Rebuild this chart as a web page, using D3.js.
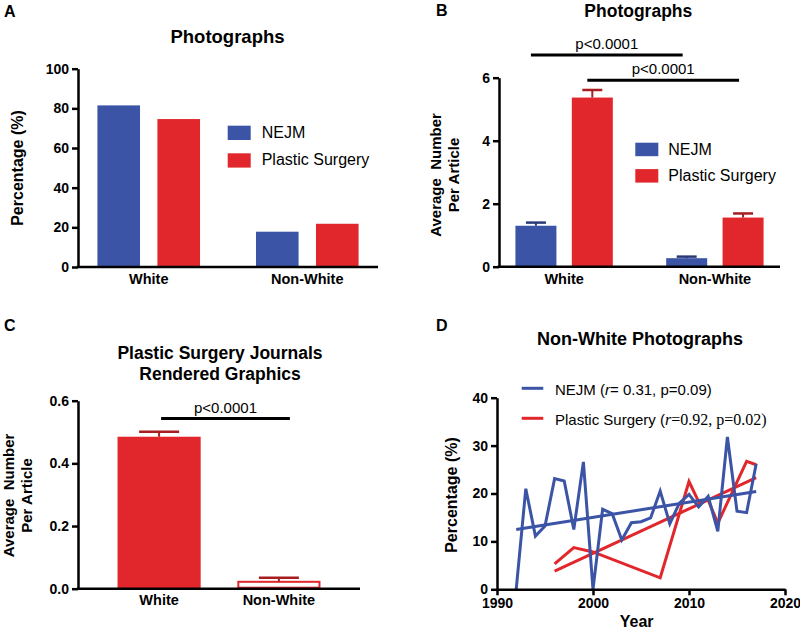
<!DOCTYPE html>
<html><head><meta charset="utf-8">
<script src="https://cdn.jsdelivr.net/npm/d3@7"></script>
<style>html,body{margin:0;padding:0;background:#fff;}svg{display:block;}text{white-space:pre;}</style>
</head><body>
<svg id="chart" width="800" height="635"></svg>
<script>
// ---------- data ----------
const categories = ["White", "Non-White"];
const seriesNames = ["NEJM", "Plastic Surgery"];
// Panel A: percentage of photographs
const pctNEJM = [81.5, 17.8];
const pctPS = [74.6, 21.8];
// Panel B: average number per article (mean, +error)
const avgNEJM = [1.30, 0.27];
const avgNEJMErr = [0.10, 0.05];
const avgPS = [5.37, 1.56];
const avgPSErr = [0.24, 0.13];
// Panel C: rendered graphics, plastic surgery journals
const renderedPS = [0.485, 0.022];
const renderedPSErr = [0.016, 0.013];
// Panel D: non-white photographs by year
const nejmYears = [1992,1993,1994,1995,1996,1997,1998,1999,2000,2001,2002,2003,2004,2005,2006,2007,2008,2009,2010,2011,2012,2013,2014,2015,2016,2017];
const nejmPct = [0,21,11.1,13.2,23.1,22.6,12.5,26.6,0,16.7,15.8,10.3,13.9,14.1,14.9,20.5,13.7,18,19.8,17.2,19.4,12.1,31.8,16.3,16.0,26.2];
const nejmFitYears = [1992, 2017];
const nejmFitPct = [12.5, 20.4];
const psYears = [1996,1998,2000,2007,2010,2011,2012,2013,2016,2017];
const psPct = [5.3,8.7,7.8,2.4,22.5,18.3,18.6,13.8,26.7,26.0];
const psFitYears = [1996, 2017];
const psFitPct = [3.8, 23.3];
// ticks
const ticksA = [0,20,40,60,80,100];
const ticksB = [0,2,4,6];
const ticksC = [0,0.2,0.4,0.6];
const ticksDy = [0,10,20,30,40];
const ticksDx = [1990,2000,2010,2020];
const pText = "p<0.0001";

// ---------- style ----------
const FONT = "'Liberation Sans', Arial, Helvetica, sans-serif";
const SERIF = "'Liberation Serif', 'Times New Roman', serif";
const BLUE = "#3b54a6";
const RED = "#e1272b";
const BLUE_D = "#2a3a78";
const RED_D = "#a81d20";
const AXW = 2.5;
const colors = {"NEJM": BLUE, "Plastic Surgery": RED};
const darkColors = {"NEJM": BLUE_D, "Plastic Surgery": RED_D};

const svg = d3.select("#chart");

function text(x, y, str, opts = {}) {
  return svg.append("text").attr("x", x).attr("y", y)
    .attr("font-family", opts.family || FONT)
    .attr("font-size", opts.size || 14)
    .attr("font-weight", opts.weight || "normal")
    .attr("text-anchor", opts.anchor || "start")
    .attr("fill", "#000").text(str);
}
function rotText(cx, cy, str, opts = {}) {
  return svg.append("text").attr("transform", `translate(${cx},${cy}) rotate(-90)`)
    .attr("font-family", FONT).attr("font-size", opts.size || 16)
    .attr("font-weight", "bold").attr("text-anchor", "middle").text(str);
}
function yAxis(x, scale, ticks, fmt) {
  const g = svg.append("g").attr("transform", `translate(${x},0)`)
    .call(d3.axisLeft(scale).tickValues(ticks).tickSize(6).tickSizeOuter(0).tickPadding(3).tickFormat(fmt));
  g.attr("font-family", FONT).attr("font-size", 14).attr("font-weight", "bold");
  g.select(".domain").attr("stroke-width", AXW).attr("stroke", "#000");
  g.selectAll(".tick line").attr("stroke-width", AXW).attr("stroke", "#000");
  g.selectAll(".tick text").attr("fill", "#000");
  return g;
}
function xLine(x0, x1, y) {
  svg.append("line").attr("x1", x0 - AXW/2).attr("x2", x1).attr("y1", y).attr("y2", y)
    .attr("stroke", "#000").attr("stroke-width", AXW);
}
function xCatLabels(xScale, y) {
  categories.forEach(c => text(xScale(c), y, c, {weight: "bold", size: 14.5, anchor: "middle"}));
}

// ---------- Panel A ----------
(function () {
  const x0 = 78, x1 = 378, yB = 267, yT = 68.7;
  const y = d3.scaleLinear().domain([0, 100]).range([yB, yT]);
  const xc = d3.scalePoint().domain(categories).range([x0, x1]).padding(0.446);
  const xs = d3.scaleBand().domain(seriesNames).range([-51.3, 51.3]).paddingInner(0.29);
  const vals = {"NEJM": pctNEJM, "Plastic Surgery": pctPS};
  seriesNames.forEach(s => {
    svg.append("g").selectAll("rect").data(categories).join("rect")
      .attr("x", (c) => xc(c) + xs(s)).attr("width", xs.bandwidth())
      .attr("y", (c, i) => y(vals[s][i])).attr("height", (c, i) => yB - y(vals[s][i]))
      .attr("fill", colors[s]);
  });
  yAxis(x0, y, ticksA, d3.format("d"));
  xLine(x0, x1, yB);
  xCatLabels(xc, 283.5);
  text(4, 17, "A", {weight: "bold", size: 16});
  text(227.5, 43, "Photographs", {weight: "bold", size: 18.5, anchor: "middle"});
  rotText(23, 168, "Percentage (%)", {size: 16});
  // legend
  seriesNames.forEach((s, i) => {
    svg.append("rect").attr("x", 227.7).attr("y", 125.7 + i * 27.6).attr("width", 23).attr("height", 14.3).attr("fill", colors[s]);
    text(261.7, 137.7 + i * 27.6, s, {size: 16});
  });
})();

// ---------- Panel B ----------
(function () {
  const x0 = 499, x1 = 780, yB = 266.7, yT = 77.7;
  const y = d3.scaleLinear().domain([0, 6]).range([yB, yT]);
  const xc = d3.scalePoint().domain(categories).range([x0, x1]).padding(0.432);
  const xs = d3.scaleBand().domain(seriesNames).range([-48.7, 48.7]).paddingInner(0.273);
  const vals = {"NEJM": avgNEJM, "Plastic Surgery": avgPS};
  const errs = {"NEJM": avgNEJMErr, "Plastic Surgery": avgPSErr};
  const bw = xs.bandwidth();
  seriesNames.forEach(s => {
    const g = svg.append("g");
    g.selectAll("rect").data(categories).join("rect")
      .attr("x", c => xc(c) + xs(s)).attr("width", bw)
      .attr("y", (c, i) => y(vals[s][i])).attr("height", (c, i) => yB - y(vals[s][i]))
      .attr("fill", colors[s]);
    g.selectAll("line.v").data(categories).join("line").attr("class", "v")
      .attr("x1", c => xc(c) + xs(s) + bw / 2).attr("x2", c => xc(c) + xs(s) + bw / 2)
      .attr("y1", (c, i) => y(vals[s][i])).attr("y2", (c, i) => y(vals[s][i] + errs[s][i]))
      .attr("stroke", darkColors[s]).attr("stroke-width", 2);
    g.selectAll("line.h").data(categories).join("line").attr("class", "h")
      .attr("x1", c => xc(c) + xs(s) + bw / 2 - 10).attr("x2", c => xc(c) + xs(s) + bw / 2 + 10)
      .attr("y1", (c, i) => y(vals[s][i] + errs[s][i])).attr("y2", (c, i) => y(vals[s][i] + errs[s][i]))
      .attr("stroke", darkColors[s]).attr("stroke-width", 2.5);
  });
  yAxis(x0, y, ticksB, d3.format("d"));
  xLine(x0, x1, yB);
  xCatLabels(xc, 283.5);
  text(436, 16, "B", {weight: "bold", size: 16});
  text(638.3, 16.5, "Photographs", {weight: "bold", size: 17.5, anchor: "middle"});
  rotText(441, 175, "Average  Number", {size: 15});
  rotText(459, 175, "Per Article", {size: 15});
  // significance lines
  const sig = [
    {s: "NEJM", level: 6.72},
    {s: "Plastic Surgery", level: 5.92}
  ];
  sig.forEach(d => {
    const xa = xc(categories[0]) + xs(d.s) + bw / 2 - 5;
    const xb = xc(categories[1]) + xs(d.s) + bw / 2 - 4;
    svg.append("line").attr("x1", xa).attr("x2", xb).attr("y1", y(d.level)).attr("y2", y(d.level))
      .attr("stroke", "#000").attr("stroke-width", 3);
    text((xa + xb) / 2, y(d.level) - 6, pText, {size: 15, anchor: "middle"});
  });
  // legend
  seriesNames.forEach((s, i) => {
    svg.append("rect").attr("x", 635.3).attr("y", 142.7 + i * 26.4).attr("width", 23).attr("height", 13.5).attr("fill", colors[s]);
    text(668.3, 155 + i * 26.4, s, {size: 16});
  });
})();

// ---------- Panel C ----------
(function () {
  const x0 = 78, x1 = 360, yB = 588.7, yT = 400.7;
  const y = d3.scaleLinear().domain([0, 0.6]).range([yB, yT]);
  const xb = d3.scaleBand().domain(categories).range([x0, x1]).paddingInner(0.306).paddingOuter(0.33);
  const bw = xb.bandwidth();
  const g = svg.append("g");
  g.selectAll("rect").data(categories).join("rect")
    .attr("x", (c, i) => xb(c) + (i === 1 ? 1 : 0)).attr("width", (c, i) => bw - (i === 1 ? 2 : 0))
    .attr("y", (c, i) => y(renderedPS[i])).attr("height", (c, i) => yB - y(renderedPS[i]) - (i === 1 ? 1 : 0))
    .attr("fill", (c, i) => i === 0 ? RED : "#fff")
    .attr("stroke", (c, i) => i === 0 ? "none" : RED).attr("stroke-width", 2);
  g.selectAll("line.v").data(categories).join("line").attr("class", "v")
    .attr("x1", c => xb(c) + bw / 2).attr("x2", c => xb(c) + bw / 2)
    .attr("y1", (c, i) => y(renderedPS[i])).attr("y2", (c, i) => y(renderedPS[i] + renderedPSErr[i]))
    .attr("stroke", RED_D).attr("stroke-width", 2);
  g.selectAll("line.h").data(categories).join("line").attr("class", "h")
    .attr("x1", c => xb(c) + bw / 2 - 20).attr("x2", c => xb(c) + bw / 2 + 20)
    .attr("y1", (c, i) => y(renderedPS[i] + renderedPSErr[i])).attr("y2", (c, i) => y(renderedPS[i] + renderedPSErr[i]))
    .attr("stroke", RED_D).attr("stroke-width", 2.5);
  yAxis(x0, y, ticksC, d3.format(".1f"));
  xLine(x0, x1, yB);
  categories.forEach(c => text(xb(c) + bw / 2, 605, c, {weight: "bold", size: 14.5, anchor: "middle"}));
  text(4, 331, "C", {weight: "bold", size: 16});
  text(220, 359, "Plastic Surgery Journals", {weight: "bold", size: 17.5, anchor: "middle"});
  text(220, 380, "Rendered Graphics", {weight: "bold", size: 17.5, anchor: "middle"});
  rotText(13.5, 495.5, "Average  Number", {size: 15});
  rotText(31.5, 495.5, "Per Article", {size: 15});
  const level = 0.543;
  const xa = xb(categories[0]) + bw / 2 + 2, xe = xb(categories[1]) + bw / 2 + 11;
  svg.append("line").attr("x1", xa).attr("x2", xe).attr("y1", y(level)).attr("y2", y(level))
    .attr("stroke", "#000").attr("stroke-width", 3);
  text((xa + xe) / 2, y(level) - 6, pText, {size: 15, anchor: "middle"});
})();

// ---------- Panel D ----------
(function () {
  const x0 = 497, x1 = 785, yB = 589.3, yT = 397.7;
  const x = d3.scaleLinear().domain([1990, 2020]).range([x0, x1]);
  const y = d3.scaleLinear().domain([0, 40]).range([yB, yT]);
  const line = d3.line().x(d => x(d[0])).y(d => y(d[1]));
  const draw = (xs, ys, col) => svg.append("path").datum(xs.map((v, i) => [v, ys[i]]))
    .attr("d", line).attr("fill", "none").attr("stroke", col).attr("stroke-width", 3)
    .attr("stroke-linejoin", "miter").attr("stroke-miterlimit", 4);
  draw(psFitYears, psFitPct, RED);
  draw(psYears, psPct, RED);
  draw(nejmFitYears, nejmFitPct, BLUE);
  draw(nejmYears, nejmPct, BLUE);
  yAxis(x0, y, ticksDy, d3.format("d"));
  const gx = svg.append("g").attr("transform", `translate(0,${yB})`)
    .call(d3.axisBottom(x).tickValues(ticksDx).tickSize(6).tickSizeOuter(0).tickPadding(3).tickFormat(d3.format("d")));
  gx.attr("font-family", FONT).attr("font-size", 14).attr("font-weight", "bold");
  gx.select(".domain").attr("stroke-width", AXW).attr("stroke", "#000");
  gx.selectAll(".tick line").attr("stroke-width", AXW).attr("stroke", "#000");
  gx.selectAll(".tick text").attr("fill", "#000");
  text(436, 331, "D", {weight: "bold", size: 16});
  text(640, 345, "Non-White Photographs", {weight: "bold", size: 18, anchor: "middle"});
  rotText(457, 495, "Percentage (%)", {size: 16});
  text(636.7, 627, "Year", {weight: "bold", size: 16, anchor: "middle"});
  // legend
  svg.append("line").attr("x1", 521.7).attr("x2", 543.3).attr("y1", 388.3).attr("y2", 388.3).attr("stroke", BLUE).attr("stroke-width", 3);
  svg.append("line").attr("x1", 521.7).attr("x2", 543.3).attr("y1", 418.3).attr("y2", 418.3).attr("stroke", RED).attr("stroke-width", 3);
  const t1 = text(555, 395, "", {size: 15});
  t1.append("tspan").text("NEJM (");
  t1.append("tspan").attr("font-style", "italic").text("r");
  t1.append("tspan").text("= 0.31, p=0.09)");
  const t2 = text(555, 425, "", {size: 15});
  t2.append("tspan").text("Plastic Surgery (");
  t2.append("tspan").attr("font-style", "italic").attr("font-family", SERIF).attr("font-size", 16).text("r");
  t2.append("tspan").attr("font-family", SERIF).attr("font-size", 16).text("=0.92, p=0.02)");
})();
</script>
</body></html>
